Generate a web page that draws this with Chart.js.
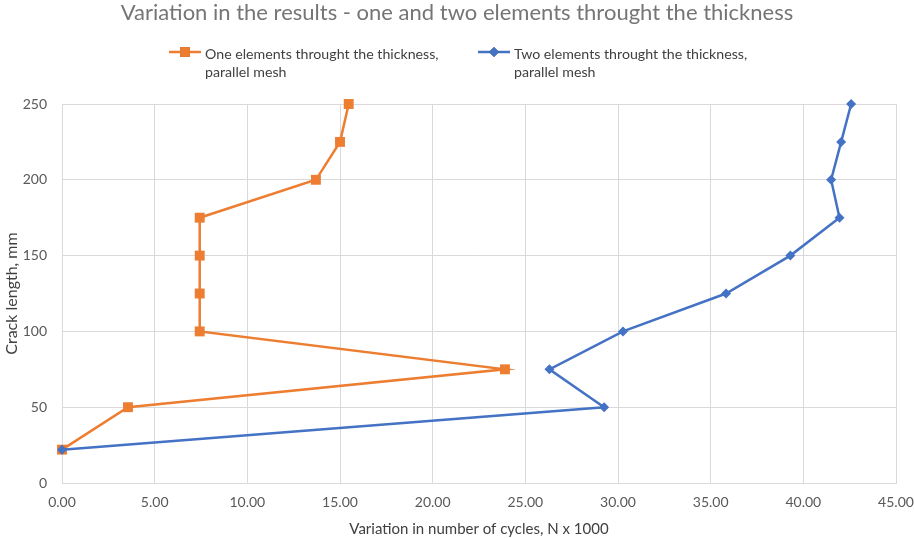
<!DOCTYPE html>
<html>
<head>
<meta charset="utf-8">
<script src="https://cdn.jsdelivr.net/npm/chart.js@4.4.1/dist/chart.umd.min.js"></script>
<style>
  html, body { margin: 0; padding: 0; background: #fff; }
  #wrap { width: 914px; height: 538px; }
</style>
</head>
<body>
<div id="wrap"><canvas id="chart" width="914" height="538"></canvas></div>
<script>
// crack length (mm) against variation in cycles (N x 1000)
var crackLength = [22, 50, 75, 100, 125, 150, 175, 200, 225, 250];
var oneElement = [0, 3.56, 23.9, 7.43, 7.43, 7.43, 7.43, 13.7, 15.0, 15.47];
var twoElements = [0, 29.25, 26.3, 30.27, 35.83, 39.3, 41.95, 41.5, 42.04, 42.58];

var seriesNames = [
    ['One elements throught the thickness,', 'parallel mesh'],
    ['Two elements throught the thickness,', 'parallel mesh']
];
var orange = '#ED7D31';
var blue = '#4472C4';
var fontFamily = "Lato, Carlito, Calibri, sans-serif";

function toPoints(xs) {
    return xs.map(function (x, i) { return { x: x, y: crackLength[i] }; });
}

// legend with two-line labels, a line + marker swatch in front of each
var twoLineLegend = {
    id: 'twoLineLegend',
    afterDraw: function (chart, args, opts) {
        var ctx = chart.ctx;
        ctx.save();
        ctx.font = opts.fontSize + 'px ' + fontFamily;
        ctx.textBaseline = 'middle';
        ctx.textAlign = 'left';
        chart.data.datasets.forEach(function (ds, i) {
            var x = opts.starts[i];
            var y = opts.top;
            var cx = x + opts.swatchWidth / 2;
            ctx.strokeStyle = ds.borderColor;
            ctx.lineWidth = ds.borderWidth;
            ctx.beginPath();
            ctx.moveTo(x, y);
            ctx.lineTo(x + opts.swatchWidth, y);
            ctx.stroke();
            Chart.helpers.drawPoint(ctx, {
                pointStyle: ds.pointStyle,
                radius: ds.pointRadius,
                borderWidth: 0
            }, cx, y);
            ctx.fillStyle = ds.borderColor;
            ctx.fill();
            ctx.fillStyle = opts.color;
            seriesNames[i].forEach(function (line, k) {
                ctx.fillText(line, x + opts.swatchWidth + 4, y + 2 + k * opts.lineHeight);
            });
        });
        ctx.restore();
    }
};

new Chart(document.getElementById('chart'), {
    type: 'line',
    data: {
        datasets: [{
            label: seriesNames[0].join(' '),
            data: toPoints(oneElement),
            borderColor: orange,
            backgroundColor: orange,
            borderWidth: 2.5,
            pointStyle: 'rect',
            pointRadius: 7,
            pointBorderWidth: 0,
            clip: false,
            order: 1
        }, {
            label: seriesNames[1].join(' '),
            data: toPoints(twoElements),
            borderColor: blue,
            backgroundColor: blue,
            borderWidth: 2.5,
            pointStyle: 'rectRot',
            pointRadius: 5,
            pointBorderWidth: 0,
            clip: false,
            order: 0
        }]
    },
    plugins: [twoLineLegend],
    options: {
        responsive: false,
        animation: false,
        layout: { padding: { left: 0, right: 0, top: 0, bottom: 0 } },
        plugins: {
            title: {
                display: true,
                text: 'Variation in the results - one and two elements throught the thickness',
                color: '#757575',
                font: { family: fontFamily, size: 22, weight: 'normal', lineHeight: 1.2 },
                padding: { top: 0, bottom: 77.6 }
            },
            legend: { display: false },
            twoLineLegend: {
                starts: [169, 478],
                top: 52,
                swatchWidth: 32,
                lineHeight: 18,
                fontSize: 14.2,
                color: '#404040'
            },
            tooltip: { enabled: false }
        },
        scales: {
            x: {
                type: 'linear',
                min: 0,
                max: 45,
                afterFit: function (s) {
                    s.height = 55;
                    s.paddingLeft = 0;
                    s.paddingRight = 18;
                },
                ticks: {
                    stepSize: 5,
                    padding: 11,
                    color: '#595959',
                    font: { family: fontFamily, size: 14 },
                    callback: function (v) { return v.toFixed(2); }
                },
                grid: { color: '#d9d9d9', drawTicks: false },
                border: { color: '#d9d9d9' },
                title: {
                    display: true,
                    text: 'Variation in number of cycles, N x 1000',
                    color: '#404040',
                    font: { family: fontFamily, size: 15, lineHeight: 1 },
                    padding: { top: 0, bottom: 1 }
                }
            },
            y: {
                type: 'linear',
                min: 0,
                max: 250,
                afterFit: function (s) { s.width = 62; },
                ticks: {
                    stepSize: 50,
                    padding: 15,
                    color: '#595959',
                    font: { family: fontFamily, size: 14 }
                },
                grid: { color: '#d9d9d9', drawTicks: false },
                border: { color: '#d9d9d9' },
                title: {
                    display: true,
                    text: 'Crack length, mm',
                    color: '#404040',
                    font: { family: fontFamily, size: 16, lineHeight: 1 },
                    padding: { top: 4, bottom: 0 }
                }
            }
        }
    }
});
</script>
</body>
</html>
